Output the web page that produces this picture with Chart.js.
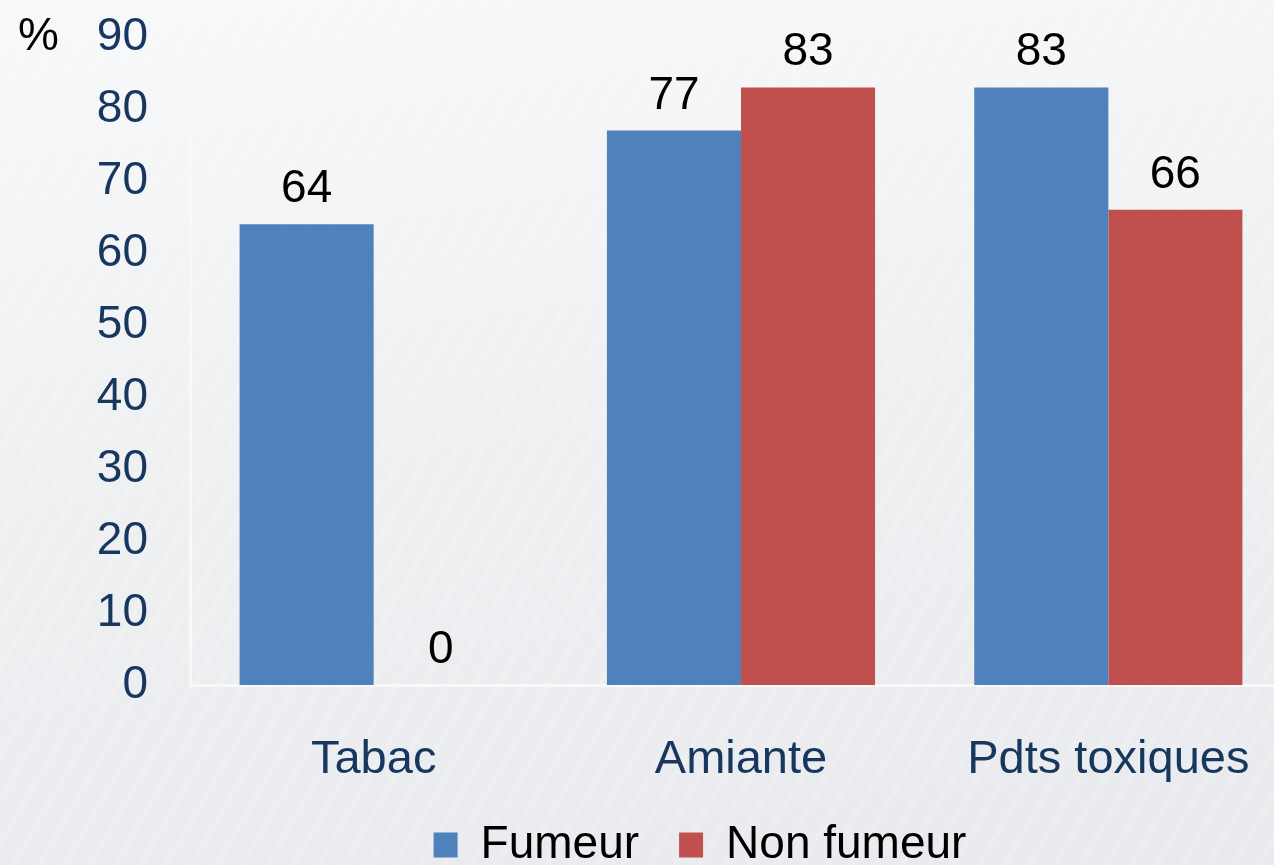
<!DOCTYPE html>
<html lang="fr">
<head>
    <meta charset="UTF-8">
    <title>Fumeur / Non fumeur</title>
    <script src="https://cdn.jsdelivr.net/npm/chart.js"></script>
    <style>
        html, body {
            margin: 0;
            padding: 0;
            overflow: hidden;
            width: 1274px;
            height: 865px;
        }
        body {
            background:
                repeating-linear-gradient(120deg, rgba(255,255,255,0) 0px, rgba(255,255,255,0.18) 4px, rgba(255,255,255,0) 9px, rgba(255,255,255,0) 22px),
                linear-gradient(172deg, #f8f9fa 0%, #eff0f2 45%, #e8eaed 100%);
        }
        #wrap {
            width: 1292px;
            height: 878px;
        }
    </style>
</head>
<body>
    <div id="wrap">
        <canvas id="chart"></canvas>
    </div>

    <script>
        // données
        const categories = ['Tabac', 'Amiante', 'Pdts toxiques'];
        const fumeur = [64, 77, 83];
        const nonFumeur = [0, 83, 66];
        const yTicks = [0, 10, 20, 30, 40, 50, 60, 70, 80, 90];

        const FONT = "Arial, 'Liberation Sans', sans-serif";
        const navy = '#17375E';

        // valeurs au-dessus des barres + le "%"
        const valueLabels = {
            id: 'valueLabels',
            afterDatasetsDraw(chart) {
                const ctx = chart.ctx;
                ctx.save();
                ctx.fillStyle = '#000';
                ctx.font = '46px ' + FONT;
                ctx.textAlign = 'center';
                ctx.textBaseline = 'alphabetic';
                chart.data.datasets.forEach((ds, i) => {
                    chart.getDatasetMeta(i).data.forEach((bar, j) => {
                        ctx.fillText(ds.data[j], bar.x, bar.y - 22);
                    });
                });
                const y = chart.scales.y;
                ctx.textAlign = 'left';
                ctx.textBaseline = 'middle';
                ctx.fillText('%', 18, y.getPixelForValue(yTicks[yTicks.length - 1]));
                ctx.restore();
            },
            afterLayout(chart) {
                // décale la légende comme sur l'original
                chart.legend.left += 54;
                chart.legend.right += 54;
            }
        };

        const ctx = document.getElementById('chart').getContext('2d');
        new Chart(ctx, {
            type: 'bar',
            data: {
                labels: categories,
                datasets: [{
                    label: 'Fumeur',
                    data: fumeur,
                    backgroundColor: '#4F81BD',
                }, {
                    label: 'Non fumeur',
                    data: nonFumeur,
                    backgroundColor: '#C0504D',
                }],
            },
            options: {
                responsive: true,
                maintainAspectRatio: false,
                animation: false,
                layout: { padding: { top: 37, right: 0, left: 0, bottom: 0 } },
                datasets: {
                    bar: { categoryPercentage: 0.73, barPercentage: 1.0 }
                },
                plugins: {
                    tooltip: { enabled: false },
                    legend: {
                        position: 'bottom',
                        labels: {
                            boxWidth: 24,
                            boxHeight: 25,
                            padding: 40,
                            color: '#000',
                            font: { family: FONT, size: 46 },
                        },
                    },
                },
                scales: {
                    x: {
                        afterFit(scale) {
                            scale.height = 97;
                            scale.paddingLeft = 0;
                            scale.paddingRight = 0;
                        },
                        grid: { display: false, drawTicks: false },
                        border: { color: '#f8f8f9', width: 3 },
                        ticks: {
                            color: navy,
                            padding: 47,
                            font: { family: FONT, size: 47 },
                        },
                    },
                    y: {
                        min: 0,
                        max: 90,
                        afterFit(scale) {
                            scale.width = 190;
                            scale.paddingTop = 0;
                            scale.paddingBottom = 0;
                        },
                        afterBuildTicks(scale) { scale.ticks = yTicks.map(v => ({ value: v })); },
                        grid: { display: false, drawTicks: false },
                        border: { color: '#f8f8f9', width: 3 },
                        ticks: {
                            color: navy,
                            padding: 42,
                            font: { family: FONT, size: 46 },
                        },
                    },
                },
            },
            plugins: [valueLabels],
        });
    </script>
</body>
</html>
